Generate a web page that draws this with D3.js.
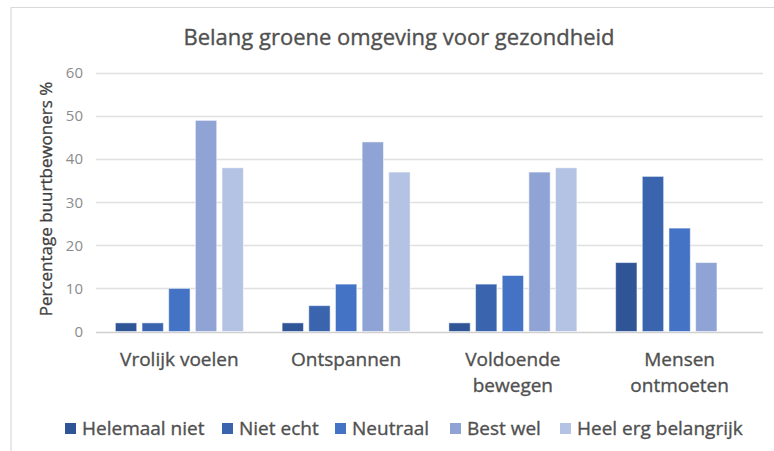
<!DOCTYPE html>
<html>
<head>
<meta charset="utf-8">
<script src="https://cdn.jsdelivr.net/npm/d3@7"></script>
<style>
  body { margin: 0; background: #fff; }
  text { font-family: "Open Sans", "Liberation Sans", sans-serif; }
</style>
</head>
<body>
<script>
const categories = [['Vrolijk voelen'], ['Ontspannen'], ['Voldoende', 'bewegen'], ['Mensen', 'ontmoeten']];
const series = ['Helemaal niet', 'Niet echt', 'Neutraal', 'Best wel', 'Heel erg belangrijk'];
const colors = ['#2f5597', '#3a64ad', '#4472c4', '#8fa3d4', '#b4c2e3'];
// values per category, in series order
const values = [
  [2, 2, 10, 49, 38],
  [2, 6, 11, 44, 37],
  [2, 11, 13, 37, 38],
  [16, 36, 24, 16, 0]
];
const yTicks = [0, 10, 20, 30, 40, 50, 60];

const width = 774, height = 451;
const svg = d3.select('body').append('svg')
  .attr('width', width)
  .attr('height', height);

// chart frame
svg.append('path')
  .attr('d', 'M11,451 V7.5 H774')
  .attr('fill', 'none')
  .attr('stroke', '#d9d9d9')
  .attr('stroke-width', 1.2);

const plot = { left: 96, right: 763, top: 73, bottom: 331.5 };

const x = d3.scaleBand()
  .domain(d3.range(categories.length))
  .range([plot.left, plot.right]);

const xs = d3.scaleBand()
  .domain(d3.range(series.length))
  .range([0, 128])
  .paddingInner(0.2);

const y = d3.scaleLinear()
  .domain([0, 60])
  .range([plot.bottom, plot.top]);

// gridlines
svg.append('g')
  .selectAll('line')
  .data(yTicks)
  .enter()
  .append('line')
  .attr('x1', plot.left)
  .attr('x2', plot.right)
  .attr('y1', d => Math.round(y(d)) + 0.5)
  .attr('y2', d => Math.round(y(d)) + 0.5)
  .attr('stroke', d => d === 0 ? '#d0d0d0' : '#e0e0e0')
  .attr('stroke-width', 1.4);

// y axis labels
const yAxis = svg.append('g')
  .attr('transform', `translate(${plot.left - 13},0)`)
  .call(d3.axisLeft(y).tickValues(yTicks).tickSize(0).tickPadding(0));
yAxis.select('.domain').remove();
yAxis.selectAll('text')
  .attr('fill', '#8c8c8c')
  .style('font-size', '15px')
  .style('font-family', '"Open Sans", "Liberation Sans", sans-serif');

// bars
const groups = svg.append('g')
  .selectAll('g')
  .data(values)
  .enter()
  .append('g')
  .attr('transform', (d, i) => `translate(${x(i) + x.bandwidth() / 2 - 64},0)`);

groups.selectAll('rect')
  .data(d => d.map((v, j) => ({ v: v, j: j })).filter(o => o.v > 0))
  .enter()
  .append('rect')
  .attr('x', d => xs(d.j))
  .attr('y', d => y(d.v))
  .attr('width', xs.bandwidth())
  .attr('height', d => y(0) - y(d.v))
  .attr('fill', d => colors[d.j])
  .attr('stroke', '#ffffff')
  .attr('stroke-opacity', 0.5)
  .attr('stroke-width', 1);

// category labels
const cat = svg.append('g')
  .selectAll('text')
  .data(categories)
  .enter()
  .append('text')
  .attr('text-anchor', 'middle')
  .attr('fill', '#505050')
  .attr('stroke', '#505050')
  .attr('stroke-width', 0.35)
  .style('font-size', '19px');
cat.selectAll('tspan')
  .data((d, i) => d.map(line => ({ line: line, i: i })))
  .enter()
  .append('tspan')
  .attr('x', d => x(d.i) + x.bandwidth() / 2)
  .attr('y', (d, k) => 366 + k * 26)
  .text(d => d.line);

// title
svg.append('text')
  .attr('x', 399)
  .attr('y', 45)
  .attr('text-anchor', 'middle')
  .attr('fill', '#505050')
  .attr('stroke', '#505050')
  .attr('stroke-width', 0.35)
  .style('font-size', '22px')
  .text('Belang groene omgeving voor gezondheid');

// y axis title
svg.append('text')
  .attr('transform', 'translate(52,199) rotate(-90)')
  .attr('text-anchor', 'middle')
  .attr('fill', '#404040')
  .attr('stroke', '#404040')
  .attr('stroke-width', 0.3)
  .style('font-size', '17px')
  .text('Percentage buurtbewoners %');

// legend
const legendX = [65, 222, 335, 450, 560];
const legend = svg.append('g')
  .selectAll('g')
  .data(series)
  .enter()
  .append('g')
  .attr('transform', (d, i) => `translate(${legendX[i]},435)`);
legend.append('rect')
  .attr('x', 0)
  .attr('y', -12)
  .attr('width', 11)
  .attr('height', 11)
  .attr('fill', (d, i) => colors[i]);
legend.append('text')
  .attr('x', 17)
  .attr('y', 0)
  .attr('fill', '#505050')
  .attr('stroke', '#505050')
  .attr('stroke-width', 0.35)
  .style('font-size', '19px')
  .text(d => d);
</script>
</body>
</html>
